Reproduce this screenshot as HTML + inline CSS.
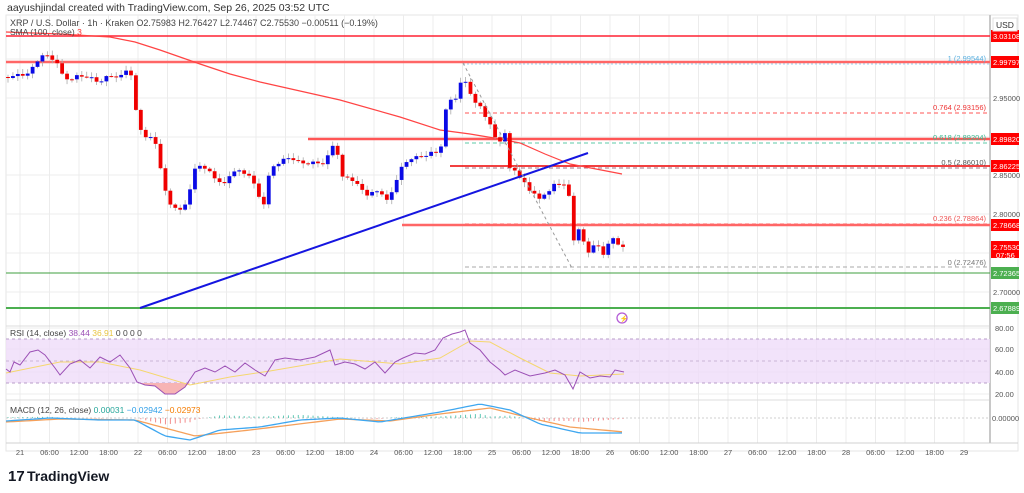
<!DOCTYPE html>
<html><head><meta charset="utf-8"><style>
body{margin:0;background:#fff;width:1024px;height:493px;overflow:hidden;font-family:"Liberation Sans",sans-serif}
svg{position:absolute;left:0;top:0}
</style></head><body>
<svg id="s" width="1024" height="493" viewBox="0 0 1024 493" font-family="Liberation Sans, sans-serif">
<rect width="1024" height="493" fill="#fff"/>
<text x="7" y="11" font-size="10.5" fill="#333">aayushjindal created with TradingView.com, Sep 26, 2025 03:52 UTC</text>
<rect x="6" y="15" width="1012" height="436" fill="none" stroke="#e6e6e6"/>
<g id="grid" stroke="#ececec" stroke-width="1"></g>
<line x1="6" y1="326" x2="990" y2="326" stroke="#dcdcdc"/>
<line x1="6" y1="400" x2="990" y2="400" stroke="#dcdcdc"/>
<line x1="6" y1="443" x2="1018" y2="443" stroke="#d0d0d0"/>
<line x1="990" y1="15" x2="990" y2="443" stroke="#c8c8c8" stroke-width="2"/>
<rect x="6" y="339" width="984" height="44" fill="#efdcf9" opacity="0.8"/>
<line x1="6" y1="339" x2="990" y2="339" stroke="#b89cc9" stroke-dasharray="3,3"/>
<line x1="6" y1="361" x2="990" y2="361" stroke="#c9b4d6" stroke-dasharray="3,3"/>
<line x1="6" y1="383" x2="990" y2="383" stroke="#b89cc9" stroke-dasharray="3,3"/>
<line x1="6" y1="418" x2="990" y2="418" stroke="#cfcfcf" stroke-dasharray="2,2"/>
<g id="main"></g>
<text x="10" y="26" font-size="9" fill="#444">XRP / U.S. Dollar · 1h · Kraken  O2.75983  H2.76427  L2.74467  C2.75530  −0.00511 (−0.19%)</text>
<text x="10" y="35" font-size="8.5" fill="#444">SMA (100, close) <tspan fill="#f33">3</tspan></text>
<text x="10" y="336" font-size="8.5" fill="#444">RSI (14, close) <tspan fill="#9b4fb5">38.44</tspan> <tspan fill="#e8c542">36.91</tspan> 0 0 0 0</text>
<text x="10" y="413" font-size="8.5" fill="#444">MACD (12, 26, close) <tspan fill="#26a69a">0.00031</tspan> <tspan fill="#2d9ee8">−0.02942</tspan> <tspan fill="#f57c00">−0.02973</tspan></text>
<g id="axis" font-size="8.5" fill="#555"></g>
<rect x="993" y="18" width="24" height="13" fill="#fff" stroke="#e0e0e0"/>
<text x="996" y="28" font-size="8.5" fill="#333">USD</text>
<g transform="translate(622,318)"><circle r="5" fill="none" stroke="#b45cd6" stroke-width="1.3"/><text x="-2.5" y="3" font-size="7" fill="#b45cd6">⚡</text></g>
<text x="8" y="481" font-size="15" font-weight="bold" fill="#131722">17</text>
<text x="27" y="481" font-size="14" font-weight="bold" fill="#131722">TradingView</text>
</svg>
<script>
var NS="http://www.w3.org/2000/svg";
function el(p,t,a,txt){var e=document.createElementNS(NS,t);for(var k in a)e.setAttribute(k,a[k]);if(txt!==undefined)e.textContent=txt;document.getElementById(p).appendChild(e);return e;}
for(var k=0;k<33;k++){var gx=20+29.5*k;el('grid','line',{x1:gx,y1:15,x2:gx,y2:443});}
[59,98,137,175,214,253,292].forEach(function(y){el('grid','line',{x1:6,y1:y,x2:990,y2:y});});
[328,349,372,394].forEach(function(y){el('grid','line',{x1:6,y1:y,x2:990,y2:y});});
var days=['21','22','23','24','25','26','27','28','29'];
for(var k=0;k<33;k++){var gx=20+29.5*k;var t=k%4==0?days[k/4]:['','06:00','12:00','18:00'][k%4];el('axis','text',{x:gx,y:455,'text-anchor':'middle','font-size':7.5},t);}
[['2.95000',98],['2.85000',175],['2.80000',214],['2.70000',292]].forEach(function(p){el('axis','text',{x:993,y:p[1]+3,'font-size':7.5},p[0]);});
[['80.00',328],['60.00',349],['40.00',372],['20.00',394]].forEach(function(p){el('axis','text',{x:995,y:p[1]+3,'font-size':7.5},p[0]);});
el('axis','text',{x:992,y:421,'font-size':7.5},'0.00000');
function hl(x1,y,c,w,d){el('main','line',{x1:x1,y1:y,x2:990,y2:y,stroke:c,'stroke-width':w||1.5,'stroke-dasharray':d||''});}
hl(6,36,'#f23',1.5);
hl(6,62,'#f66',2.5);
hl(463,64,'#9cd3f0',1,'2,2');
hl(465,113,'#f55',1,'4,3');
hl(308,139,'#f55',2.5);
hl(465,143,'#5cc9a7',1,'4,3');
hl(450,166,'#e00',1.5);
hl(465,168,'#a07080',1,'4,3');
hl(465,224,'#f55',1,'4,3');
hl(402,225,'#f66',2.5);
hl(465,267,'#aaa',1,'4,3');
hl(6,273,'#3f9f3f',1);
hl(6,308,'#4caf50',2);
function ft(x,y,c,t){el('main','text',{x:x,y:y,'font-size':7.5,fill:c,'text-anchor':'end'},t);}
ft(986,61,'#5ab0e0','1 (2.99544)');ft(986,110,'#e33','0.764 (2.93156)');ft(986,140,'#3cb890','0.618 (2.89204)');
ft(986,165,'#555','0.5 (2.86010)');ft(986,221,'#e55','0.236 (2.78864)');ft(986,265,'#777','0 (2.72476)');
function tag(y,t,c,h){el('main','rect',{x:991,y:y-6,width:28,height:h||12,fill:c});el('main','text',{x:993,y:y+3,'font-size':7.5,fill:'#fff'},t);}
tag(36,'3.03108','#f00');tag(62,'2.99797','#f00');tag(139,'2.89820','#f00');tag(166,'2.86225','#f00');tag(225,'2.78668','#f00');
tag(247,'2.75530','#f00',17);el('main','text',{x:996,y:258,'font-size':7.5,fill:'#fff'},'07:56');
tag(273,'2.72365','#4caf50');tag(308,'2.67889','#4caf50');
function pl(pts,c,w){var d=pts.map(function(p,i){return(i?'L':'M')+p[0]+' '+p[1];}).join(' ');return el('main','path',{d:d,fill:'none',stroke:c,'stroke-width':w||1});}
pl([[6,32],[60,34],[110,37],[135,42],[160,50],[200,64],[230,74],[260,82],[300,91],[340,100],[400,117],[440,130],[470,134],[500,139],[520,143],[545,154],[570,164],[622,174]],'#f44',1.2);
var kp=[[6,77],[20,75],[30,73],[36,62],[42,55],[48,57],[56,60],[62,75],[70,80],[80,75],[90,78],[100,82],[110,75],[120,78],[128,67],[133,80],[137,123],[146,137],[155,140],[162,175],[166,195],[171,205],[177,208],[181,212],[187,200],[195,170],[200,165],[205,168],[215,178],[225,185],[232,170],[240,172],[250,175],[258,195],[265,205],[270,168],[280,162],[290,157],[300,163],[325,163],[333,145],[337,150],[342,178],[350,177],[357,185],[368,195],[380,190],[388,203],[395,183],[400,170],[410,158],[420,157],[430,153],[440,153],[444,120],[448,100],[453,100],[458,95],[462,78],[468,85],[474,103],[481,107],[485,115],[490,125],[496,140],[500,140],[505,134],[508,160],[512,178],[516,165],[520,180],[525,183],[530,190],[535,195],[540,200],[545,192],[550,192],[555,183],[562,183],[568,190],[572,220],[576,262],[580,215],[584,245],[590,253],[594,245],[600,248],[605,256],[610,238],[616,240],[620,246],[624,248]];
function interp(P,x){for(var i=1;i<P.length;i++){if(x<=P[i][0]){var a=P[i-1],b=P[i];return a[1]+(b[1]-a[1])*(x-a[0])/(b[0]-a[0]);}}return P[P.length-1][1];}
var prv=interp(kp,6);
for(var cx=8;cx<=624;cx+=4.92){var cl=interp(kp,cx)+Math.sin(cx*1.7)*1.5;var op=prv;var tp=Math.min(op,cl),bt=Math.max(op,cl);var hi=tp-1-Math.abs(Math.sin(cx*3.1))*4,lo=bt+1+Math.abs(Math.cos(cx*2.3))*4;
el('main','line',{x1:cx,y1:hi,x2:cx,y2:lo,stroke:'#aaa','stroke-width':0.8});
if(bt-tp<1){bt=tp+1;}
el('main','rect',{x:cx-1.9,y:tp,width:3.8,height:bt-tp,fill:cl<op?'#0a0ae6':'#f00000'});prv=cl;}
el('main','line',{x1:140,y1:308,x2:588,y2:153,stroke:'#1515e0','stroke-width':2});
el('main','line',{x1:463,y1:63,x2:573,y2:270,stroke:'#999','stroke-width':1,'stroke-dasharray':'3,3'});
el('main','path',{d:'M140 383 L145 385 L155 386 L165 394 L175 394 L185 387 L190 383 Z',fill:'#f7b4b4'});
pl([[6,373],[60,362],[100,362],[140,370],[190,385],[230,377],[270,371],[340,359],[400,364],[440,358],[470,341],[490,342],[520,358],[550,373],[580,376],[624,374]],'#f5d76e',1);
pl([[6,369],[10,372],[14,362],[20,365],[30,352],[38,350],[45,355],[55,368],[60,375],[70,364],[80,360],[90,368],[100,357],[110,362],[120,355],[130,368],[137,382],[145,385],[155,386],[165,394],[175,394],[185,387],[195,372],[205,368],[215,372],[225,366],[235,372],[245,363],[255,370],[265,376],[275,360],[285,358],[300,360],[315,357],[330,350],[335,365],[345,362],[355,364],[365,369],[375,362],[385,373],[395,362],[403,358],[415,353],[425,354],[435,350],[443,338],[452,334],[460,332],[465,330],[470,343],[480,350],[490,362],[500,370],[505,375],[515,370],[530,376],[545,373],[555,370],[565,375],[573,389],[580,372],[590,378],[600,376],[610,377],[615,370],[624,372]],'#9b4fb5',1);
var BP=[[6,421],[50,418],[100,420],[135,420],[165,436],[190,440],[220,430],[260,427],[300,420],[340,418],[380,422],[410,417],[440,412],[480,404],[510,410],[540,424],[580,433],[620,433]];
var OP=[[6,422],[60,419],[135,420],[195,436],[250,430],[340,419],[390,421],[440,414],[490,408],[530,418],[570,427],[624,432]];
for(var hx=8;hx<=624;hx+=4.92){var h=(interp(OP,hx)-interp(BP,hx))*0.8;el('main','line',{x1:hx,y1:418,x2:hx,y2:418-h,stroke:h>0?'#5fc7b4':'#f28b8b','stroke-width':1});}
var bp=[],opp=[];for(var lx=6;lx<=624;lx+=4){bp.push([lx,interp(BP,lx)]);opp.push([lx,interp(OP,lx)]);}
pl(opp,'#f5a05a',1.3);pl(bp,'#3ea7f0',1.3);
</script>
</body></html>
